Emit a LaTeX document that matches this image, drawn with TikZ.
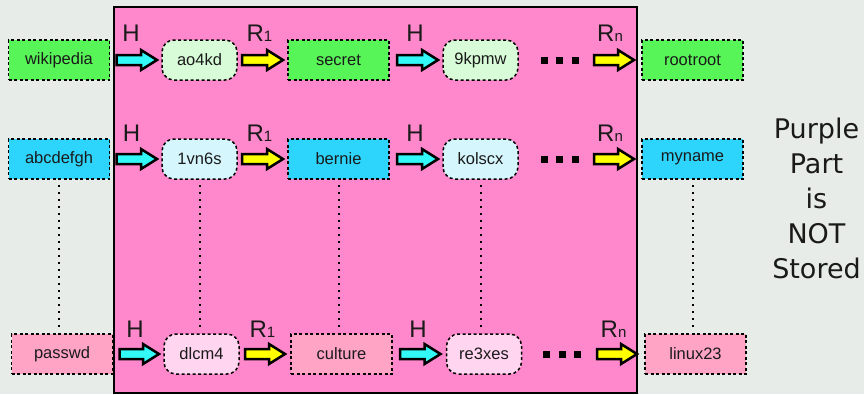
\documentclass[tikz,border=0pt]{standalone}
\usepackage{fontspec}
\setmainfont{Liberation Sans}
\newfontfamily\djv{DejaVu Sans}
\usetikzlibrary{calc}
\definecolor{bgc}{HTML}{E8ECE8}
\definecolor{pinkbg}{HTML}{FF88CC}
\definecolor{grn}{HTML}{58F558}
\definecolor{lgrn}{HTML}{D8FCD8}
\definecolor{cyn}{HTML}{2DD5FD}
\definecolor{lcyn}{HTML}{D5F6FD}
\definecolor{pnk}{HTML}{FFA4C4}
\definecolor{lpnk}{HTML}{FFD5F0}
\definecolor{arrcyan}{HTML}{33F8F8}
\definecolor{arryel}{HTML}{FFFF00}
\definecolor{txt}{HTML}{1A1A1A}
\tikzset{
  nodebase/.style={draw=black, line width=1.5pt, dash pattern=on 3pt off 2.5pt,
    minimum height=40pt, inner sep=0pt, outer sep=0pt, text=txt,
    font=\fontsize{16.5}{16.5}\selectfont},
  rbox/.style={nodebase, rectangle, minimum width=101pt},
  obox/.style={nodebase, rectangle, rounded corners=12pt, minimum width=75pt},
  lbl/.style={anchor=base, inner sep=0pt, text=txt, font=\fontsize{24}{24}\selectfont},
  blk/.style={draw=black, line width=2.5pt, line join=miter},
  conn/.style={draw=black, line width=2pt, dash pattern=on 2pt off 5pt},
  dotsq/.style={fill=black}
}
\newcommand\sub[1]{{\fontsize{15}{15}\selectfont #1}}
\newcommand\blockarr[3]{%
  \path[blk, fill=#3] let \p1=(#1), \p2=(#2) in
    (\x1,{\y2+5pt}) -- ({\x2-16pt},{\y2+5pt}) -- ({\x2-16pt},{\y2+10pt}) --
    (\x2,\y2) -- ({\x2-16pt},{\y2-10pt}) -- ({\x2-16pt},{\y2-5pt}) --
    (\x1,{\y2-5pt}) -- cycle;}
\newcommand\threedots[2]{%
  \foreach \dx in {0,15.5,31}{\fill[dotsq] ({#1+\dx-3.5},{#2-3.5}) rectangle ({#1+\dx+3.5},{#2+3.5});}}
\begin{document}
\begin{tikzpicture}[x=1pt,y=-1pt]
\fill[bgc] (0,0) rectangle (864,394);
\useasboundingbox (0,0) rectangle (864,394);
\draw[line width=2.5pt, fill=pinkbg] (114,7) rectangle (637,393);

% row 1
\node[rbox, fill=grn]  (w)  at (59,60)    {wikipedia};
\node[obox, fill=lgrn] (a1) at (199.5,60) {ao4kd};
\node[rbox, fill=grn]  (s)  at (338.5,60) {secret};
\node[obox, fill=lgrn] (k1) at (480.5,60) {9kpmw};
\node[rbox, fill=grn]  (r)  at (692.5,60) {rootroot};
\coordinate (d1) at (594,60);
\node[lbl] (h1a) at (131,41) {H};
\node[lbl] (r1a) at (259.5,41) {R\sub{1}};
\node[lbl] (h1b) at (415,41) {H};
\node[lbl] (r1b) at (610,41) {R\sub{n}};
\blockarr{$(w.east)+(7,0)$}{$(a1.west)+(-5,0)$}{arrcyan}
\blockarr{$(a1.east)+(5,0)$}{$(s.west)+(-5,0)$}{arryel}
\blockarr{$(s.east)+(8,0)$}{$(k1.west)+(-5,0)$}{arrcyan}
\blockarr{d1}{$(r.west)+(-8,0)$}{arryel}
\threedots{544}{60}

% row 2
\node[rbox, fill=cyn]  (ab) at (59,159)    {abcdefgh};
\node[obox, fill=lcyn] (v)  at (199.5,159) {1vn6s};
\node[rbox, fill=cyn]  (b)  at (338.5,159) {bernie};
\node[obox, fill=lcyn] (ko) at (480.5,159) {kolscx};
\node[rbox, fill=cyn]  (m)  at (692.5,159) {myname};
\coordinate (d2) at (594,159);
\node[lbl] (h2a) at (131.5,141) {H};
\node[lbl] (r2a) at (259.5,141) {R\sub{1}};
\node[lbl] (h2b) at (415,141) {H};
\node[lbl] (r2b) at (610,141) {R\sub{n}};
\blockarr{$(ab.east)+(7,0)$}{$(v.west)+(-5,0)$}{arrcyan}
\blockarr{$(v.east)+(5,0)$}{$(b.west)+(-5,0)$}{arryel}
\blockarr{$(b.east)+(8,0)$}{$(ko.west)+(-5,0)$}{arrcyan}
\blockarr{d2}{$(m.west)+(-8,0)$}{arryel}
\threedots{544}{159}

% row 3
\node[rbox, fill=pnk]  (p)  at (62,354)    {passwd};
\node[obox, fill=lpnk] (dl) at (201.5,354) {dlcm4};
\node[rbox, fill=pnk]  (c)  at (341.5,354) {culture};
\node[obox, fill=lpnk] (re) at (484,354)   {re3xes};
\node[rbox, fill=pnk]  (l)  at (695.5,354) {linux23};
\coordinate (d3) at (597,354);
\node[lbl] (h3a) at (135,337) {H};
\node[lbl] (r3a) at (262.5,337) {R\sub{1}};
\node[lbl] (h3b) at (418,337) {H};
\node[lbl] (r3b) at (613.5,337) {R\sub{n}};
\blockarr{$(p.east)+(7,0)$}{$(dl.west)+(-5,0)$}{arrcyan}
\blockarr{$(dl.east)+(6,0)$}{$(c.west)+(-6,0)$}{arryel}
\blockarr{$(c.east)+(8,0)$}{$(re.west)+(-6,0)$}{arrcyan}
\blockarr{d3}{$(l.west)+(-8,0)$}{arryel}
\threedots{546.5}{354}

% dotted links
\draw[conn] ($(ab.south)+(0,6)$) -- ($(ab.south |- p.north)+(0,-3)$);
\draw[conn] ($(v.south)+(0,6)$)  -- ($(v.south |- dl.north)+(0,-3)$);
\draw[conn] ($(b.south)+(0,6)$)  -- ($(b.south |- c.north)+(0,-3)$);
\draw[conn] ($(ko.south)+(0,6)$) -- ($(ko.south |- re.north)+(0,-3)$);
\draw[conn] ($(m.south)+(0,6)$)  -- ($(m.south |- l.north)+(0,-3)$);

\node[align=center, text=txt, font=\djv\fontsize{27}{35}\selectfont, inner sep=0pt]
  (note) at (816.5,198) {Purple\\Part\\is\\NOT\\Stored};
\end{tikzpicture}
\end{document}
